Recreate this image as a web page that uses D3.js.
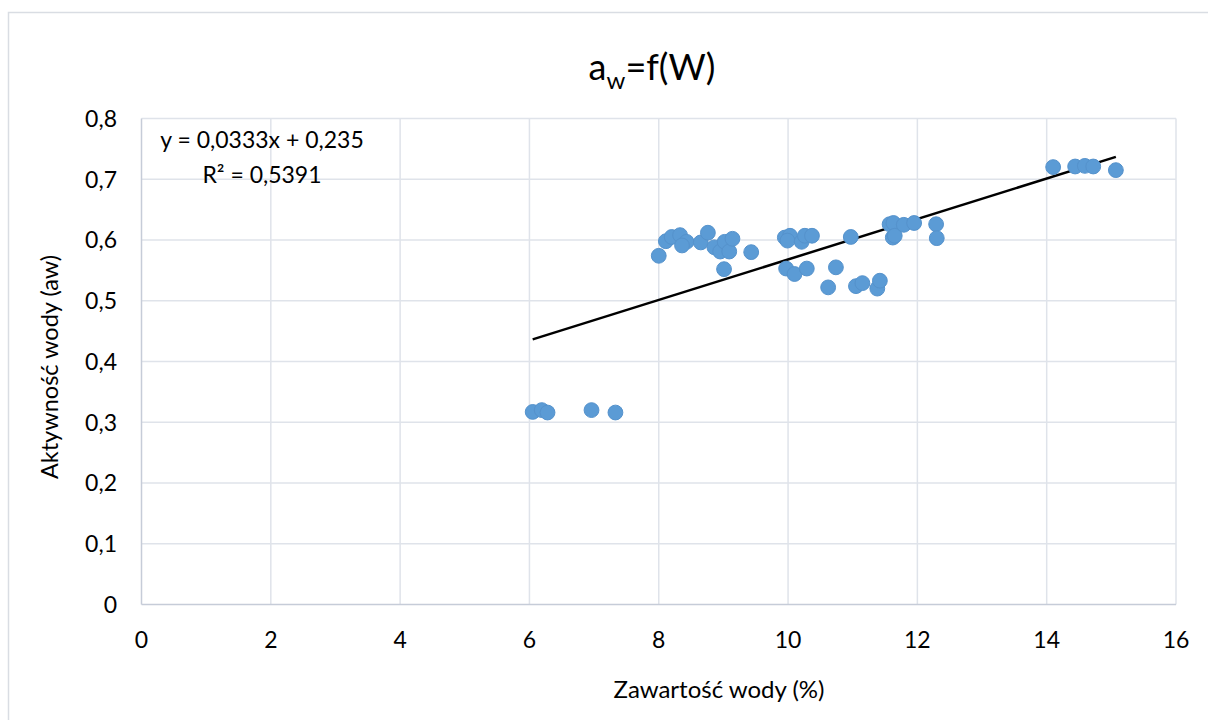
<!DOCTYPE html>
<html>
<head>
<meta charset="utf-8">
<script src="https://cdn.jsdelivr.net/npm/d3@7"></script>
<style>
  body { margin: 0; background: #fff; }
  svg text { font-family: Lato, "Open Sans", sans-serif; fill: #000; }
</style>
</head>
<body>
<div id="chart"></div>
<script>
// water content (%) and water activity
const waterContent = [
  6.05, 6.19, 6.28, 6.96, 7.33,
  8.00, 8.11, 8.20, 8.33, 8.43, 8.36, 8.65, 8.76, 8.86, 8.95, 9.02, 9.09, 9.14, 9.01, 9.43,
  9.95, 10.03, 9.99, 10.21, 10.26, 10.37,
  9.97, 10.10, 10.29, 10.74, 10.62, 10.97, 11.05, 11.15, 11.38, 11.42,
  11.57, 11.63, 11.62, 11.65, 11.79, 11.95, 12.29, 12.30,
  14.10, 14.44, 14.59, 14.72, 15.07
]
const waterActivity = [
  0.317, 0.320, 0.316, 0.320, 0.316,
  0.574, 0.598, 0.605, 0.608, 0.597, 0.591, 0.596, 0.612, 0.588, 0.581, 0.597, 0.581, 0.602, 0.552, 0.580,
  0.604, 0.607, 0.599, 0.597, 0.607, 0.607,
  0.553, 0.544, 0.553, 0.555, 0.522, 0.605, 0.524, 0.529, 0.520, 0.533,
  0.626, 0.628, 0.604, 0.607, 0.625, 0.628, 0.626, 0.603,
  0.720, 0.721, 0.722, 0.721, 0.715
]
const xTicks = [0, 2, 4, 6, 8, 10, 12, 14, 16]
const yTicks = [0, 0.1, 0.2, 0.3, 0.4, 0.5, 0.6, 0.7, 0.8]
const slope = 0.0333, intercept = 0.235
const equationLines = ["y = 0,0333x + 0,235", "R² = 0,5391"]

const W = 1208, H = 720
const plot = {left: 141.5, right: 1176, top: 118.5, bottom: 604.5}

const svg = d3.select("#chart").append("svg")
    .attr("width", W)
    .attr("height", H)

// chart border
svg.append("rect")
    .attr("x", 8.5).attr("y", 12.5)
    .attr("width", W + 10).attr("height", H + 10)
    .attr("fill", "#fff")
    .attr("stroke", "#d9dde3")
    .attr("stroke-width", 1.5)

const x = d3.scaleLinear().domain([0, 16]).range([plot.left, plot.right])
const y = d3.scaleLinear().domain([0, 0.8]).range([plot.bottom, plot.top])
const comma = v => d3.format("~g")(v).replace(".", ",")

// grid
svg.append("g").selectAll("line.v")
    .data(xTicks.slice(1))
    .join("line")
    .attr("x1", d => x(d)).attr("x2", d => x(d))
    .attr("y1", plot.top).attr("y2", plot.bottom)
    .attr("stroke", "#dfe3ea").attr("stroke-width", 1.5)

svg.append("g").selectAll("line.h")
    .data(yTicks.slice(1))
    .join("line")
    .attr("x1", plot.left).attr("x2", plot.right)
    .attr("y1", d => y(d)).attr("y2", d => y(d))
    .attr("stroke", "#dfe3ea").attr("stroke-width", 1.5)

// axis lines
svg.append("line")
    .attr("x1", plot.left).attr("x2", plot.right)
    .attr("y1", plot.bottom).attr("y2", plot.bottom)
    .attr("stroke", "#c6ccd8").attr("stroke-width", 1.5)
svg.append("line")
    .attr("x1", plot.left).attr("x2", plot.left)
    .attr("y1", plot.top).attr("y2", plot.bottom)
    .attr("stroke", "#c6ccd8").attr("stroke-width", 1.5)

// tick labels
svg.append("g").selectAll("text")
    .data(xTicks)
    .join("text")
    .attr("x", d => x(d))
    .attr("y", 648)
    .attr("text-anchor", "middle")
    .style("font-size", "23px")
    .text(d => comma(d))

svg.append("g").selectAll("text")
    .data(yTicks)
    .join("text")
    .attr("x", 117)
    .attr("y", d => y(d))
    .attr("dy", "0.36em")
    .attr("text-anchor", "end")
    .style("font-size", "23px")
    .text(d => comma(d))

// trendline over the data range
const xMin = d3.min(waterContent), xMax = d3.max(waterContent)
svg.append("line")
    .attr("x1", x(xMin)).attr("y1", y(slope * xMin + intercept))
    .attr("x2", x(xMax)).attr("y2", y(slope * xMax + intercept))
    .attr("stroke", "#000")
    .attr("stroke-width", 2.5)

// points
svg.append("g").selectAll("circle")
    .data(waterContent.map((d, i) => [d, waterActivity[i]]))
    .join("circle")
    .attr("cx", d => x(d[0]))
    .attr("cy", d => y(d[1]))
    .attr("r", 7.4)
    .attr("fill", "#5b9bd5")
    .attr("stroke", "#5592cc")
    .attr("stroke-width", 1)

// trendline equation
svg.append("g").selectAll("text")
    .data(equationLines)
    .join("text")
    .attr("x", 262)
    .attr("y", (d, i) => 148 + i * 35)
    .attr("text-anchor", "middle")
    .style("font-size", "23px")
    .text(d => d)

// title
const title = svg.append("text")
    .attr("x", 652)
    .attr("y", 80)
    .attr("text-anchor", "middle")
    .style("font-size", "36px")
title.append("tspan").text("a")
title.append("tspan").attr("dy", 9).style("font-size", "24px").text("w")
title.append("tspan").attr("dy", -9).text("=f(W)")

// axis titles
svg.append("text")
    .attr("x", 719)
    .attr("y", 698)
    .attr("text-anchor", "middle")
    .style("font-size", "24px")
    .text("Zawartość wody (%)")

svg.append("text")
    .attr("transform", "translate(58,367) rotate(-90)")
    .attr("text-anchor", "middle")
    .style("font-size", "23.5px")
    .text("Aktywność wody (aw)")
</script>
</body>
</html>
